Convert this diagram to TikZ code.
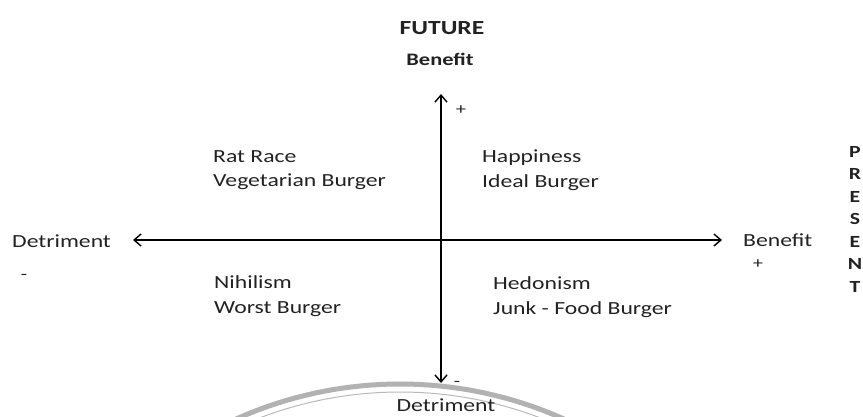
\documentclass[tikz,border=0pt]{standalone}
\usepackage{fontspec}
\setmainfont{Carlito}[FakeStretch=1.28]
\usetikzlibrary{arrows.meta}
\definecolor{txt}{HTML}{222222}
\tikzset{
  lbl/.style={inner sep=0pt, text=txt, font=\fontsize{18.5}{20}\selectfont},
  quad/.style={lbl, anchor=west, align=left, font=\fontsize{18.5}{24.5}\selectfont},
  head/.style={inner sep=0pt, text=txt, font=\bfseries\fontsize{20}{22}\selectfont},
  sub/.style={inner sep=0pt, text=txt, font=\bfseries\fontsize{17.5}{20}\selectfont},
  pres/.style={inner sep=0pt, text=txt, font=\bfseries\fontsize{17}{18}\selectfont},
  sign/.style={inner sep=0pt, text=txt, font=\fontsize{16}{16}\selectfont},
  axis/.style={line width=1.4pt, -{Straight Barb[length=7pt,width=12pt,line width=1.4pt]}},
}
\begin{document}
\begin{tikzpicture}[x=1pt,y=-1pt]
\useasboundingbox (0,0) rectangle (863,416);
% bottom arc
\draw[line width=5pt, gray!60] (400,785) ++(-60:401) arc[start angle=-60, end angle=-120, radius=401];
\draw[line width=1pt, gray!55] (400,785) ++(-60:393) arc[start angle=-60, end angle=-120, radius=393];
% axes anchor points
\coordinate (top) at (441,94);
\coordinate (bot) at (441,383);
\coordinate (lft) at (133,240);
\coordinate (rgt) at (722,240);
\coordinate (o) at (441,240);
\draw[axis] (o) -- (top);
\draw[axis] (o) -- (bot);
\draw[axis] (o) -- (lft);
\draw[axis] (o) -- (rgt);
% labels
\node[head] (future) at (442,28) {FUTURE};
\node[sub] (bentop) at (440,59) {Benefit};
\node[sign] (ptop) at (461,110) {+};
\node[lbl, anchor=west] (detl) at (12,241) {Detriment};
\node[sign] (ml) at (24,277) {-};
\node[lbl, anchor=west] (benr) at (743,240) {Benefit};
\node[sign] (pr) at (758,264) {+};
\node[lbl] (detb) at (446,405) {Detriment};
\node[sign] (mb) at (457,384) {-};
\node[quad] (rat) at (213,170) {Rat Race\\Vegetarian Burger};
\node[quad] (hap) at (482,170) {Happiness\\Ideal Burger};
\node[quad] (nih) at (214,296) {Nihilism\\Worst Burger};
\node[quad] (hed) at (493,297) {Hedonism\\Junk - Food Burger};
% PRESENT
\foreach \l/\yy [count=\i] in {P/152,R/174,E/197,S/219,E/242,N/264,T/287}
  \node[pres] (pr\i) at (855,\yy) {\l};
\end{tikzpicture}
\end{document}
